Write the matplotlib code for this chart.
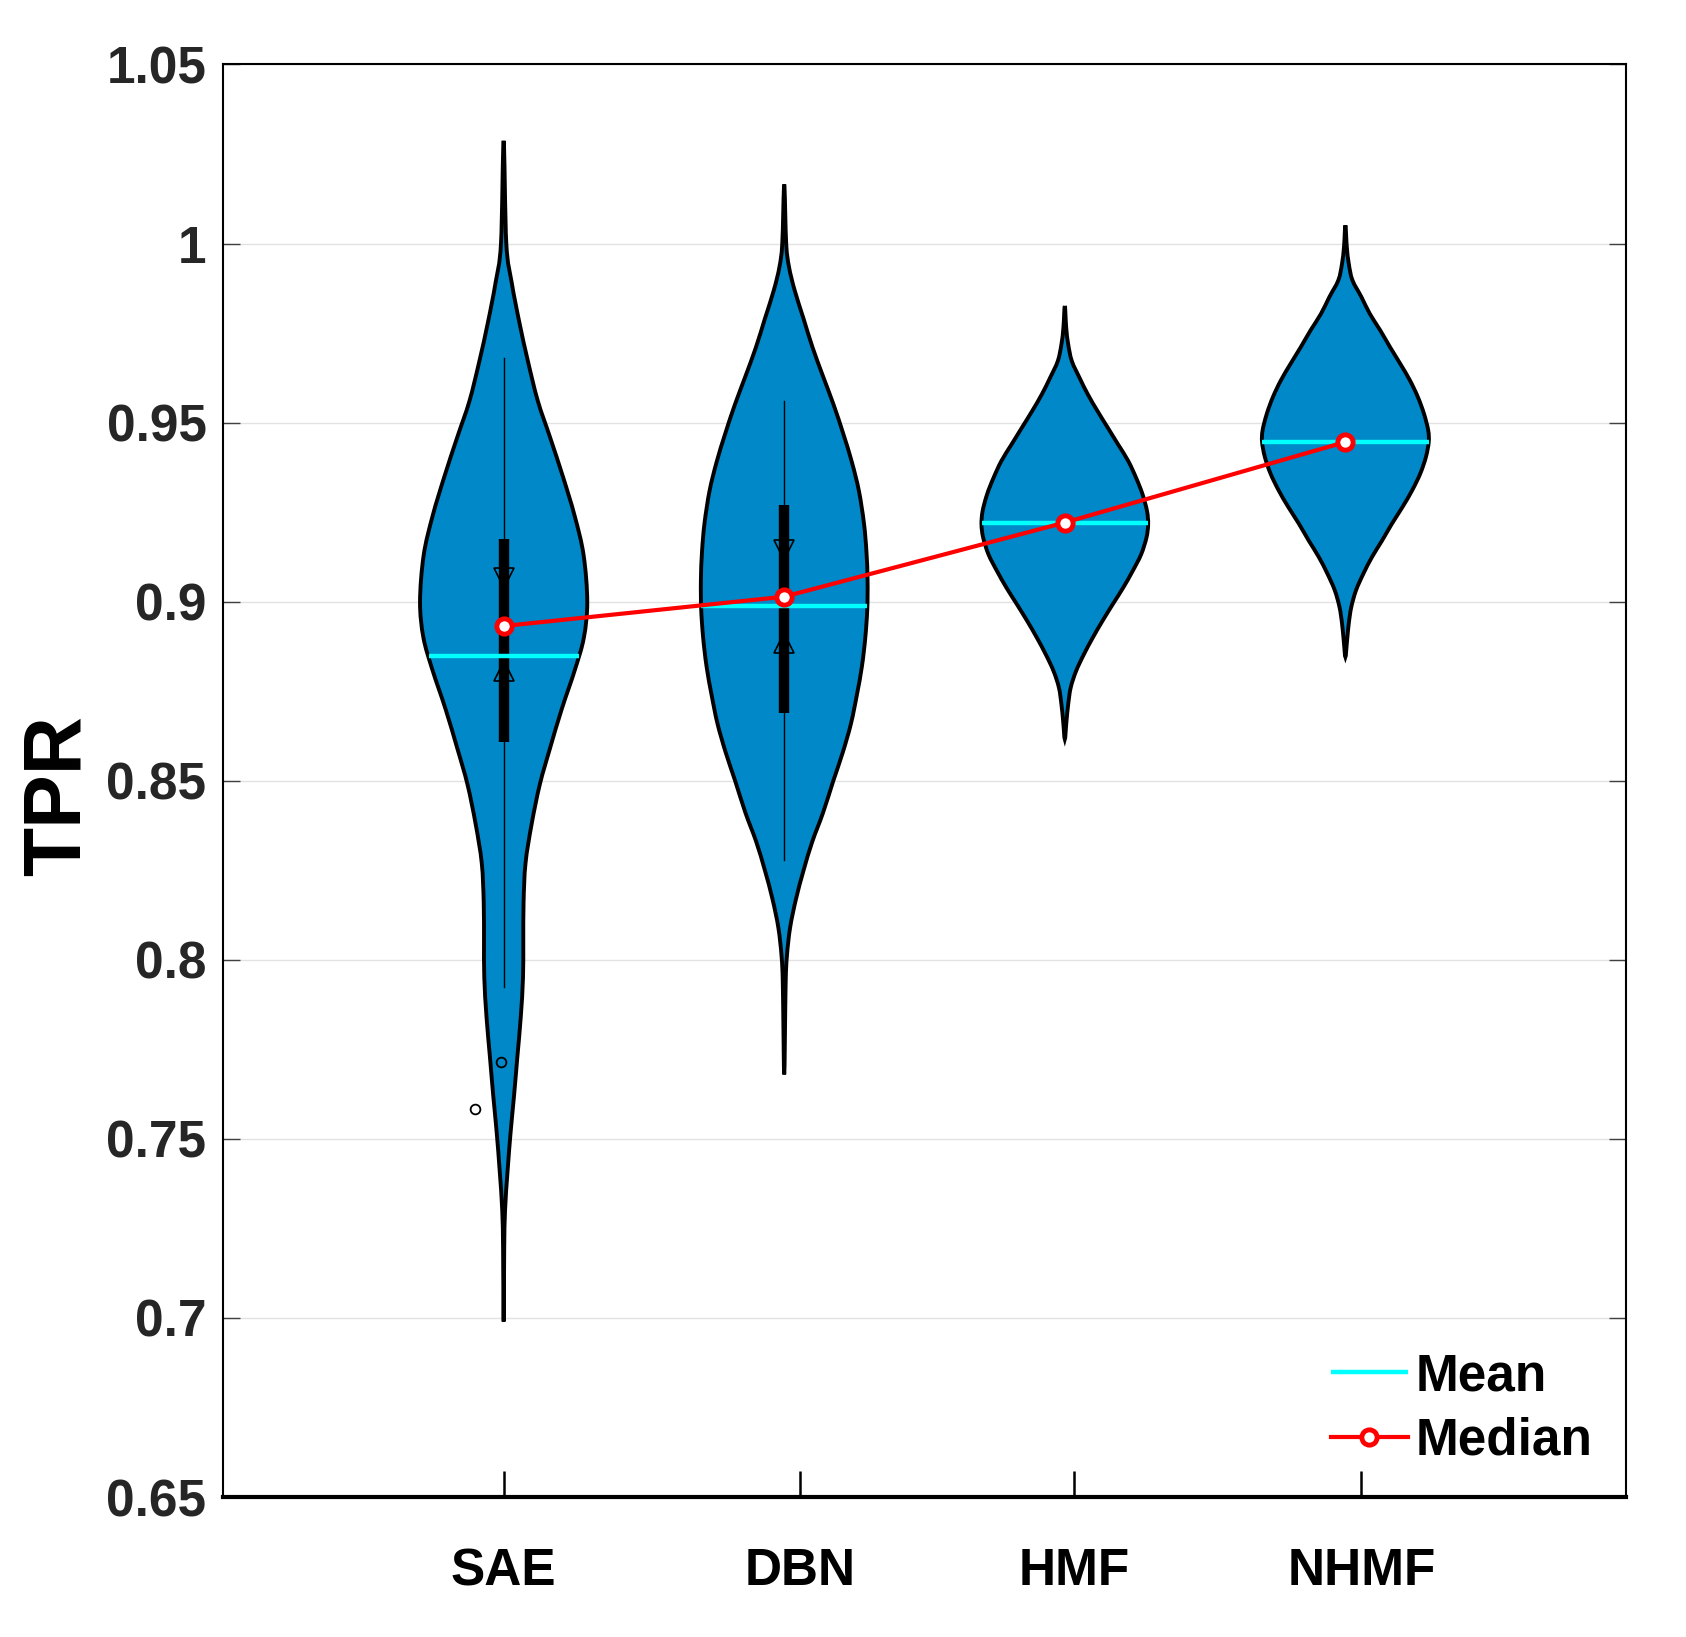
# Violin plot of TPR for four methods

import numpy as np
import matplotlib.pyplot as plt
from matplotlib.path import Path
from matplotlib.patches import PathPatch

plt.rcParams['font.family'] = ['Liberation Sans', 'DejaVu Sans']
plt.rcParams['font.weight'] = 'bold'

methods = ["SAE", "DBN", "HMF", "NHMF"]
positions = [1, 2, 3, 4]
tick_pos = [1.0, 2.057, 3.034, 4.057]  # label ticks are slightly off the violins

# violin outlines: y levels and half widths
sae_y = [1.0287, 1.0, 0.989, 0.978, 0.967, 0.956, 0.946, 0.935, 0.924, 0.913, 0.900,
         0.890, 0.881, 0.870, 0.859, 0.849, 0.838, 0.827, 0.816, 0.805, 0.795, 0.784,
         0.773, 0.762, 0.752, 0.741, 0.730, 0.719, 0.699]
sae_w = [0.0, 0.0095, 0.029, 0.056, 0.087, 0.122, 0.165, 0.211, 0.253, 0.285, 0.298,
         0.286, 0.254, 0.207, 0.165, 0.129, 0.100, 0.078, 0.071, 0.070, 0.069, 0.061,
         0.049, 0.037, 0.025, 0.014, 0.005, 0.002, 0.0]

dbn_y = [1.0165, 1.0, 0.9935, 0.987, 0.979, 0.971, 0.963, 0.955, 0.947, 0.939, 0.931,
         0.922, 0.914, 0.906, 0.898, 0.890, 0.882, 0.874, 0.866, 0.858, 0.850, 0.841,
         0.833, 0.825, 0.817, 0.809, 0.801, 0.793, 0.768]
dbn_w = [0.0, 0.007, 0.017, 0.037, 0.069, 0.101, 0.138, 0.176, 0.210, 0.241, 0.266,
         0.284, 0.293, 0.297, 0.296, 0.289, 0.277, 0.259, 0.238, 0.209, 0.175, 0.138,
         0.100, 0.069, 0.042, 0.021, 0.0095, 0.005, 0.0]

hmf_y = [0.9826, 0.9765, 0.9719, 0.9672, 0.9626, 0.9579, 0.9533, 0.9486, 0.9439, 0.9393,
         0.9346, 0.930, 0.9253, 0.9216, 0.9179, 0.9132, 0.9086, 0.9039, 0.8993, 0.8946,
         0.890, 0.8853, 0.8806, 0.876, 0.8713, 0.8667, 0.8616]
hmf_w = [0.0, 0.005, 0.012, 0.025, 0.052, 0.082, 0.116, 0.153, 0.190, 0.226,
         0.254, 0.277, 0.293, 0.297, 0.291, 0.272, 0.242, 0.208, 0.171, 0.134,
         0.100, 0.068, 0.040, 0.021, 0.012, 0.006, 0.0]

nhmf_y = [1.0051, 0.9991, 0.9944, 0.9898, 0.9851, 0.9804, 0.9758, 0.9711, 0.9665, 0.9618,
          0.9572, 0.9525, 0.9479, 0.9446, 0.9404, 0.9358, 0.9311, 0.9265, 0.9218, 0.9171,
          0.9125, 0.9078, 0.9032, 0.8985, 0.8939, 0.8892, 0.8846]
nhmf_w = [0.0, 0.005, 0.012, 0.025, 0.057, 0.087, 0.124, 0.159, 0.195, 0.230,
          0.258, 0.280, 0.295, 0.297, 0.287, 0.267, 0.238, 0.204, 0.166, 0.131,
          0.095, 0.064, 0.038, 0.021, 0.012, 0.006, 0.0]

means = [0.8848, 0.8987, 0.9221, 0.9446]
medians = [0.8932, 0.9014, 0.9221, 0.9446]

# box / whisker / notch info (only SAE and DBN show one)
box_q1 = [0.8608, 0.8689]
box_q3 = [0.9176, 0.9269]
whisk_lo = [0.7923, 0.8278]
whisk_hi = [0.968, 0.956]
notch_hi = [0.9065, 0.9143]
notch_lo = [0.8806, 0.8884]

outlier_x = [0.99, 0.897]
outlier_y = [0.7716, 0.7584]

yticks = [0.65, 0.7, 0.75, 0.8, 0.85, 0.9, 0.95, 1.0, 1.05]
ytick_labels = ["0.65", "0.7", "0.75", "0.8", "0.85", "0.9", "0.95", "1", "1.05"]


def smooth_outline(pts):
    # closed Catmull-Rom curve through the points, as bezier path
    n = len(pts)
    verts = [pts[0]]
    codes = [Path.MOVETO]
    for i in range(n):
        p0, p1, p2, p3 = pts[i - 1], pts[i], pts[(i + 1) % n], pts[(i + 2) % n]
        c1 = p1 + (p2 - p0) / 6
        c2 = p2 - (p3 - p1) / 6
        verts += [c1, c2, p2]
        codes += [Path.CURVE4] * 3
    return Path(verts, codes)


fig = plt.figure(figsize=(16.86, 16.37), dpi=100)
ax = fig.add_axes([0.1323, 0.0855, 0.8321, 0.8751])

profiles = [(sae_y, sae_w), (dbn_y, dbn_w), (hmf_y, hmf_w), (nhmf_y, nhmf_w)]
for pos, (vy, vw), m in zip(positions, profiles, means):
    vy = np.array(vy)
    vw = np.array(vw)
    right = np.column_stack([pos + vw, vy])
    left = np.column_stack([pos - vw, vy])[::-1][1:-1]
    pts = np.vstack([right, left])
    ax.add_patch(PathPatch(smooth_outline(pts), facecolor='#0088C8',
                           edgecolor='black', linewidth=2.8, zorder=2))
    # mean line spans the violin at that height
    hw = np.interp(m, vy[::-1], vw[::-1])
    mean_line, = ax.plot([pos - hw, pos + hw], [m, m], color='#00FFFF', lw=3.2,
                         zorder=4, solid_capstyle='butt')

for i in range(2):
    p = positions[i]
    ax.plot([p, p], [whisk_lo[i], whisk_hi[i]], color='black', lw=1, zorder=3)
    ax.plot([p, p], [box_q1[i], box_q3[i]], color='black', lw=7.5, zorder=3,
            solid_capstyle='butt')
    ax.plot(p, notch_hi[i], marker='v', ms=14, mfc='none', mec='black', mew=1.2, zorder=3)
    ax.plot(p, notch_lo[i], marker='^', ms=14, mfc='none', mec='black', mew=1.2, zorder=3)

ax.plot(outlier_x, outlier_y, 'o', ms=7, mfc='none', mec='black', mew=1.3,
        linestyle='none', zorder=5)

med_line, = ax.plot(positions, medians, color='red', lw=3, marker='o', ms=11,
                    mfc='white', mec='red', mew=3.5, zorder=6)

ax.set_xlim(0, 5)
ax.set_ylim(0.65, 1.05)
ax.set_yticks(yticks, ytick_labels)
ax.set_xticks(tick_pos, methods)

ax.yaxis.grid(True, color='#e2e2e2', lw=1)
ax.set_axisbelow(True)

ax.tick_params(axis='y', direction='in', length=12, width=1, color='#404040',
               right=True, labelsize=37, pad=12, labelcolor='#262626')
ax.tick_params(axis='x', direction='in', length=18.5, width=1.8, pad=36,
               labelsize=37, labelcolor='black')

for s in ['left', 'top', 'right']:
    ax.spines[s].set_linewidth(1.5)
ax.spines['bottom'].set_linewidth(3)

ax.set_ylabel("TPR", fontsize=58, fontweight='bold')
ax.yaxis.set_label_coords(-0.09, 0.49)

ax.legend([mean_line, med_line], ["Mean", "Median"], loc='lower right',
          bbox_to_anchor=(0.976, 0.022), frameon=False, fontsize=37,
          handlelength=1.5, handletextpad=0.15, labelspacing=0.3,
          borderaxespad=0, borderpad=0)

plt.savefig("out.png", dpi=100)
